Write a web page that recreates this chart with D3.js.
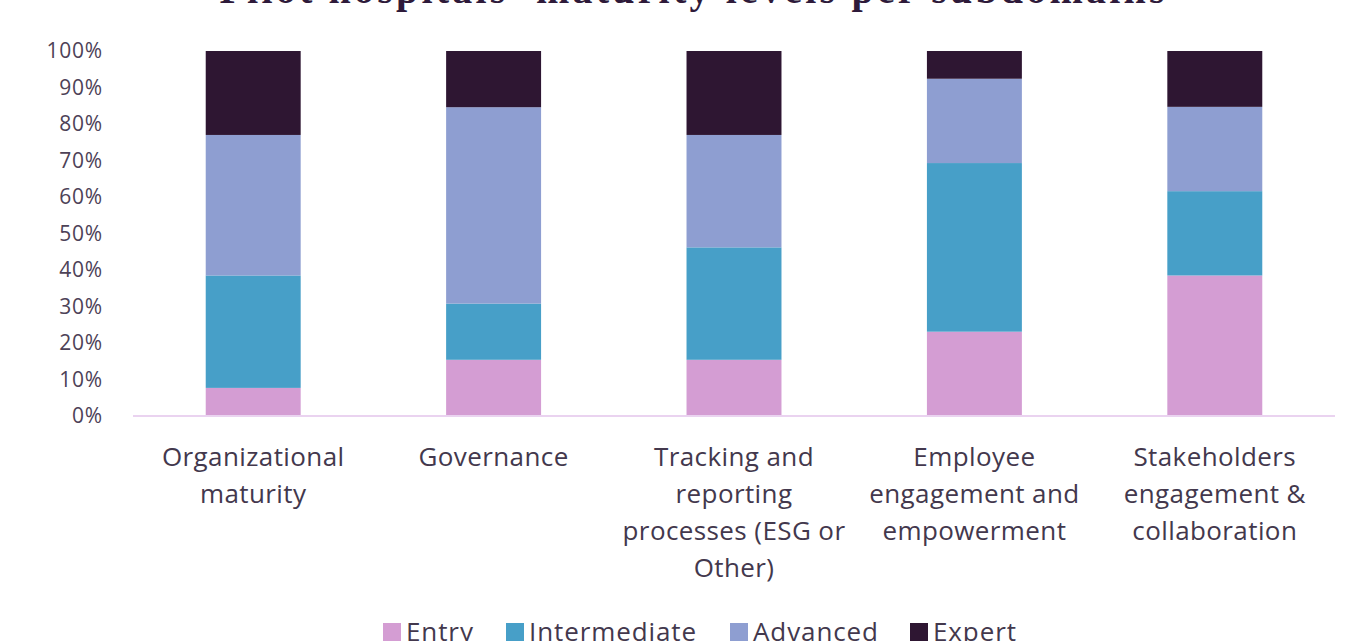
<!DOCTYPE html>
<meta charset="utf-8">
<style>
body { margin: 0; background: #fff; }
.tick text { fill: #4d4257; font-family: "Open Sans", sans-serif; }
.xlab { fill: #43384d; font-family: "Open Sans", sans-serif; font-size: 26px; letter-spacing: 0.4px; }
.leg text { fill: #43384d; font-family: "Open Sans", sans-serif; font-size: 26px; letter-spacing: 0.9px; }
</style>
<svg width="1352" height="641"></svg>
<script src="https://d3js.org/d3.v7.min.js"></script>
<script>
    var categories = [
        ["Organizational", "maturity"],
        ["Governance"],
        ["Tracking and", "reporting", "processes (ESG or", "Other)"],
        ["Employee", "engagement and", "empowerment"],
        ["Stakeholders", "engagement &", "collaboration"]
    ];
    var series = ["Entry", "Intermediate", "Advanced", "Expert"];
    var colors = ["#d49dd3", "#479fc8", "#8e9ed1", "#2e1632"];

    // percentages
    var entry        = [7.7, 15.4, 15.4, 23.1, 38.5];
    var intermediate = [30.8, 15.4, 30.8, 46.2, 23.1];
    var advanced     = [38.5, 53.8, 30.8, 23.1, 23.1];
    var expert       = [23.0, 15.4, 23.0, 7.6, 15.3];
    var yTicks = [0, 10, 20, 30, 40, 50, 60, 70, 80, 90, 100];

    var values = [entry, intermediate, advanced, expert];
    var rows = categories.map(function(c, i) {
        var r = {key: i};
        series.forEach(function(s, j) { r[s] = values[j][i]; });
        return r;
    });
    var stacked = d3.stack().keys(series)(rows);

    var svg = d3.select("svg");

    var x = d3.scaleBand()
        .domain(d3.range(categories.length))
        .range([133, 1335])
        .paddingInner(0.605)
        .paddingOuter(0.3025);

    var y = d3.scaleLinear()
        .domain([0, 100])
        .range([416, 51]);

    // title (partly cut off at the top)
    svg.append("text")
        .attr("x", 692)
        .attr("y", 3)
        .attr("text-anchor", "middle")
        .attr("textLength", 945)
        .style("font-family", "'Liberation Serif', 'DejaVu Serif', serif")
        .style("font-weight", "bold")
        .style("font-size", "40px")
        .style("fill", "#2e1a3a")
        .text("Pilot hospitals' maturity levels per subdomains");

    // bars
    svg.append("g")
        .selectAll("g")
        .data(stacked)
        .enter().append("g")
            .attr("fill", function(d, i) { return colors[i]; })
        .selectAll("rect")
        .data(function(d) { return d; })
        .enter().append("rect")
            .attr("x", function(d, i) { return x(i); })
            .attr("y", function(d) { return y(d[1]); })
            .attr("height", function(d) { return y(d[0]) - y(d[1]); })
            .attr("width", x.bandwidth());

    // y axis
    var yAxis = svg.append("g")
        .attr("transform", "translate(133,0)")
        .call(d3.axisLeft(y)
            .tickValues(yTicks)
            .tickFormat(function(d) { return d + "%"; })
            .tickSize(0)
            .tickPadding(30));
    yAxis.select(".domain").remove();
    yAxis.selectAll("text")
        .style("font-size", "21px")
        .style("letter-spacing", "0.8px");

    // baseline
    svg.append("line")
        .attr("x1", 133).attr("x2", 1335)
        .attr("y1", y(0)).attr("y2", y(0))
        .style("stroke", "#ead3f0")
        .style("stroke-width", 2);

    // category labels
    var lab = svg.append("g")
        .selectAll("text")
        .data(categories)
        .enter().append("text")
            .attr("class", "xlab")
            .attr("text-anchor", "middle")
            .attr("x", function(d, i) { return x(i) + x.bandwidth() / 2; })
            .attr("y", 466);
    lab.selectAll("tspan")
        .data(function(d) { return d; })
        .enter().append("tspan")
            .attr("x", function() { return d3.select(this.parentNode).attr("x"); })
            .attr("dy", function(d, i) { return i ? 37 : 0; })
            .text(function(d) { return d; });

    // legend
    var legX = [383, 506, 730, 910];
    var leg = svg.append("g").attr("class", "leg")
        .selectAll("g")
        .data(series)
        .enter().append("g")
            .attr("transform", function(d, i) { return "translate(" + legX[i] + ",0)"; });
    leg.append("rect")
        .attr("y", 623).attr("width", 18).attr("height", 18)
        .attr("fill", function(d, i) { return colors[i]; });
    leg.append("text")
        .attr("x", 23).attr("y", 641)
        .text(function(d) { return d; });
</script>
